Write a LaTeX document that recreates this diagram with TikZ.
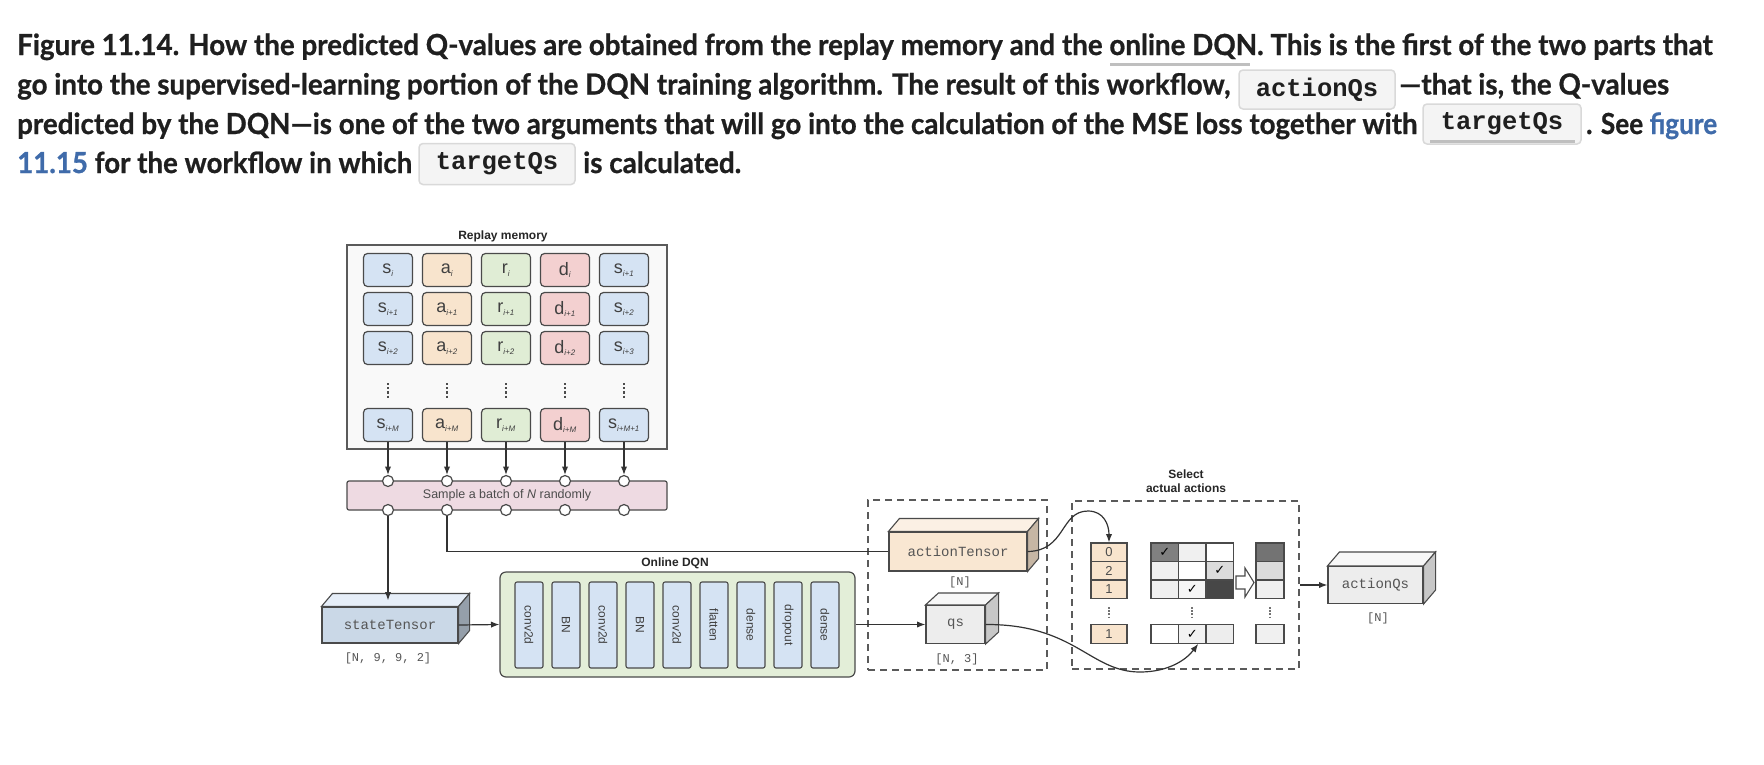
\documentclass[tikz,border=0pt]{standalone}
\usepackage{graphicx}
\usepackage{xcolor}
\usepackage{fontspec}
\setmainfont{Lato}[BoldFeatures={FakeBold=0.8}]
\newfontfamily\diag{Liberation Sans}
\newfontfamily\mono{Liberation Mono}
\newfontfamily\symb{DejaVu Sans}
\usepackage{tikz}
\usetikzlibrary{arrows.meta, calc}
\tikzset{>=latex}

\definecolor{textdark}{HTML}{1F1F1F}
\definecolor{linkblue}{HTML}{3F6BAA}
\definecolor{codebg}{HTML}{F4F4F4}
\definecolor{codeline}{HTML}{D9D9D9}
\definecolor{edge}{HTML}{4A4A4A}
\definecolor{frame}{HTML}{5A5A5A}
\definecolor{memfill}{HTML}{F9F9F9}
\definecolor{sblue}{HTML}{D5E3F3}
\definecolor{apeach}{HTML}{F8E4CD}
\definecolor{rgreen}{HTML}{E0EDD5}
\definecolor{dred}{HTML}{F3D0D0}
\definecolor{barpink}{HTML}{EEDAE2}
\definecolor{dqngreen}{HTML}{E3EED8}
\definecolor{monotext}{HTML}{555555}

\newcommand{\capfont}{\fontsize{29}{34}\selectfont\bfseries\color{textdark}}
\newcommand{\ix}[1]{\textsubscript{\fontsize{8}{8}\selectfont\itshape #1}}
\newcommand{\ck}{{\symb\fontsize{13}{13}\selectfont\color{black} ✓}}
% top and side faces of a tensor block: name, dx, dy, top fill, side fill
\newcommand{\boxfaces}[5]{%
  \draw[line width=1.1, draw=edge, fill=#4] (#1.north west) -- ++(#2,-#3) -- ($(#1.north east)+(#2,-#3)$) -- (#1.north east) -- cycle;
  \draw[line width=1.1, draw=edge, fill=#5] (#1.north east) -- ($(#1.north east)+(#2,-#3)$) -- ($(#1.south east)+(#2,-#3)$) -- (#1.south east) -- cycle;}

\begin{document}
\begin{tikzpicture}[x=1pt, y=-1pt, >=Latex, every node/.style={font=\diag},
  captext/.style={anchor=base west, inner sep=0, font=\capfont},
  codebox/.style={draw=codeline, fill=codebg, rounded corners=4, line width=1.5, inner sep=0,
    font=\mono\bfseries\fontsize{25.5}{25.5}\selectfont, text=textdark},
  cell/.style={draw=edge, line width=1.2, rounded corners=4, minimum width=49, minimum height=33,
    inner sep=0, font=\diag\fontsize{18}{18}\selectfont, text=black!75},
  layer/.style={draw=edge, line width=1.1, rounded corners=2, fill=sblue, minimum width=86,
    minimum height=28, inner sep=0, rotate=-90, font=\diag\fontsize{12}{12}\selectfont, text=black!75},
  tensor/.style={draw=edge, line width=1.1, inner sep=0, font=\mono\fontsize{14}{14}\selectfont, text=monotext},
  dimtext/.style={font=\mono\fontsize{12}{12}\selectfont, text=monotext},
  titletext/.style={font=\diag\bfseries\fontsize{12}{14}\selectfont, text=black!85, align=center},
  dot/.style={circle, draw=edge, fill=white, line width=1.2, minimum size=11, inner sep=0},
  dashbox/.style={draw=frame, dashed, dash pattern=on 7pt off 5pt, line width=1.5},
  sq/.style={draw=edge, line width=1.1, minimum width=27.5, minimum height=18.5, inner sep=0,
    font=\diag\fontsize{13}{13}\selectfont, text=black!70},
  link/.style={draw=black!80, line width=1.2}]

\fill[white] (0,0) rectangle (1764,764);
\useasboundingbox (0,0) rectangle (1764,764);

% Caption
\node[captext] (cap1) at (17,55) {\resizebox{1695pt}{\height}{Figure 11.14. How the predicted Q-values are obtained from the replay memory and the online DQN. This is the first of the two parts that}};
\draw[line width=3, color=black!25] (1110,64) -- (1250,64);
\node[captext] (cap2a) at (17,94.5) {\resizebox{1213pt}{\height}{go into the supervised-learning portion of the DQN training algorithm. The result of this workflow,}};
\node[codebox, minimum width=156, minimum height=39] (code1) at (1317,89.5) {actionQs};
\node[captext] (cap2b) at (1399,94.5) {\resizebox{270pt}{\height}{—that is, the Q-values}};
\node[captext] (cap3a) at (17,134) {\resizebox{1400pt}{\height}{predicted by the DQN—is one of the two arguments that will go into the calculation of the MSE loss together with}};
\node[codebox, minimum width=158, minimum height=40] (code2) at (1502,124) {targetQs};
\draw[line width=3, color=black!25] (1430,141) -- (1575,141);
\node[captext] (cap3b) at (1586,134) {\resizebox{131pt}{\height}{. See \textcolor{linkblue}{figure}}};
\node[captext] (cap4a) at (17,173) {\resizebox{395pt}{\height}{\textcolor{linkblue}{11.15} for the workflow in which}};
\node[codebox, minimum width=156, minimum height=41] (code3) at (497,164) {targetQs};
\node[captext] (cap4b) at (583,173) {\resizebox{158pt}{\height}{is calculated.}};

% Replay memory
\node[titletext] (memlabel) at (503,236) {Replay memory};
\node[draw=frame, fill=memfill, line width=1.2, minimum width=320, minimum height=204, inner sep=0] (mem) at (507,347) {};
\foreach \r/\y/\sa/\sb in {1/270/i/i+1, 2/309/i+1/i+2, 3/348/i+2/i+3, 4/425/i+M/i+M+1}{
  \node[cell, fill=sblue] (c\r1) at (388,\y) {s\ix{\sa}};
  \node[cell, fill=apeach] (c\r2) at (447,\y) {a\ix{\sa}};
  \node[cell, fill=rgreen] (c\r3) at (506,\y) {r\ix{\sa}};
  \node[cell, fill=dred] (c\r4) at (565,\y) {d\ix{\sa}};
  \node[cell, fill=sblue] (c\r5) at (624,\y) {s\ix{\sb}};
}
\foreach \x in {388,447,506,565,624}
  \draw[line width=2.6, color=black!70, dash pattern=on 2.2pt off 2pt] (\x,383) -- (\x,398);

% Sampling
\node[draw=edge, fill=barpink, line width=1.2, rounded corners=2, minimum width=320, minimum height=29,
  inner sep=0, font=\diag\fontsize{12.5}{12.5}\selectfont, text=black!70] (bar) at (507,495.5) {Sample a batch of \textit{N} randomly};
\foreach \k/\x in {1/388,2/447,3/506,4/565,5/624}{
  \node[dot] (t\k) at (\x,481) {};
  \node[dot] (b\k) at (\x,510) {};
  \draw[link, ->] (c4\k.south) -- (t\k.north);
}

% Online DQN
\node[titletext] (dqnlabel) at (675,563) {Online DQN};
\node[draw=edge, fill=dqngreen, line width=1.2, rounded corners=6, minimum width=355, minimum height=105, inner sep=0] (dqn) at (677.5,624.5) {};
\foreach \k/\name in {0/conv2d, 1/BN, 2/conv2d, 3/BN, 4/conv2d, 5/flatten, 6/dense, 7/dropout, 8/dense}
  \node[layer] (l\k) at ({529+37*\k},625) {\name};

% Tensors
\node[dashbox, minimum width=179, minimum height=170] (hold) at (957.5,585) {};
\node[dashbox, minimum width=227, minimum height=168] (sel) at (1185.5,585) {};

\node[tensor, fill=sblue!95!black, minimum width=136, minimum height=36] (st) at (390,625) {stateTensor};
\boxfaces{st}{11}{13}{sblue!60!white}{sblue!70!black}
\node[dimtext] (stdim) at (388,658) {[N, 9, 9, 2]};

\node[tensor, fill=apeach!90!white, minimum width=138, minimum height=39] (at) at (958,551.5) {actionTensor};
\boxfaces{at}{11}{13}{apeach!55!white}{apeach!80!black}
\node[dimtext] (atdim) at (960,582) {[N]};

\node[tensor, fill=black!7, minimum width=59, minimum height=38] (qs) at (955.5,624.5) {qs};
\boxfaces{qs}{13}{12}{black!3}{black!22}
\node[dimtext] (qsdim) at (957,659) {[N, 3]};

\node[tensor, fill=black!7, minimum width=95, minimum height=37] (aq) at (1375.5,585) {actionQs};
\boxfaces{aq}{12}{14}{black!3}{black!22}
\node[dimtext] (aqdim) at (1378,618) {[N]};

% Select actual actions
\node[titletext] (sellabel) at (1186,481) {Select\\actual actions};
\foreach \k/\v/\y in {1/0/552.25, 2/2/570.75, 3/1/589.25}
  \node[sq, minimum width=36, fill=apeach] (a\k) at (1109,\y) {\v};
\node[sq, minimum width=36, fill=apeach] (ab) at (1109,634) {1};
\foreach \r/\y in {1/552.25, 2/570.75, 3/589.25}
  \foreach \c/\x in {1/1164.75, 2/1192.25, 3/1219.75}
    \node[sq] (g\r\c) at (\x,\y) {};
\node[sq, fill=black!50] at (g11) {\ck};
\node[sq, fill=black!6] at (g12) {};
\node[sq, fill=black!6] at (g21) {};
\node[sq, fill=black!14] at (g23) {\ck};
\node[sq, fill=black!6] at (g31) {};
\node[sq, fill=black!4] at (g32) {\ck};
\node[sq, fill=black!72] at (g33) {};
\node[sq] (gb1) at (1164.75,634) {};
\node[sq, fill=black!5] (gb2) at (1192.25,634) {\ck};
\node[sq, fill=black!7] (gb3) at (1219.75,634) {};
\node[sq, minimum width=28, fill=black!55] (r1) at (1270,552.25) {};
\node[sq, minimum width=28, fill=black!14] (r2) at (1270,570.75) {};
\node[sq, minimum width=28, fill=black!6] (r3) at (1270,589.25) {};
\node[sq, minimum width=28, fill=black!6] (rb) at (1270,634) {};
\foreach \x in {1109,1192.25,1270}
  \draw[line width=1.8, color=black!55, dash pattern=on 1.6pt off 1.6pt] (\x,607) -- (\x,619);
\draw[line width=1.1, draw=edge, fill=white] (1236,576) -- (1245,576) -- (1245,568) -- (1254,582.5)
  -- (1245,597) -- (1245,589) -- (1236,589) -- cycle;

% Connectors
\draw[link, ->] (b1.south) -- ($(b1.south |- st.north)+(0,-6)$);
\draw[link] (b2.south) |- (at.west);
\draw[link, ->] (st.east) -- (dqn.west);
\draw[link, ->] (dqn.east) -- (qs.west);
\draw[link, ->] (at.east) .. controls (1066,551) and (1060,511) .. (1088,511)
  .. controls (1104,511) and (1109,525) .. (a1.north);
\draw[link, ->] (qs.east) .. controls (1075,624) and (1090,672) .. (1140,672)
  .. controls (1168,672) and (1186,660) .. ($(gb2.south)+(6,0)$);
\draw[link, ->] (sel.east) -- (aq.west);

\end{tikzpicture}
\end{document}
